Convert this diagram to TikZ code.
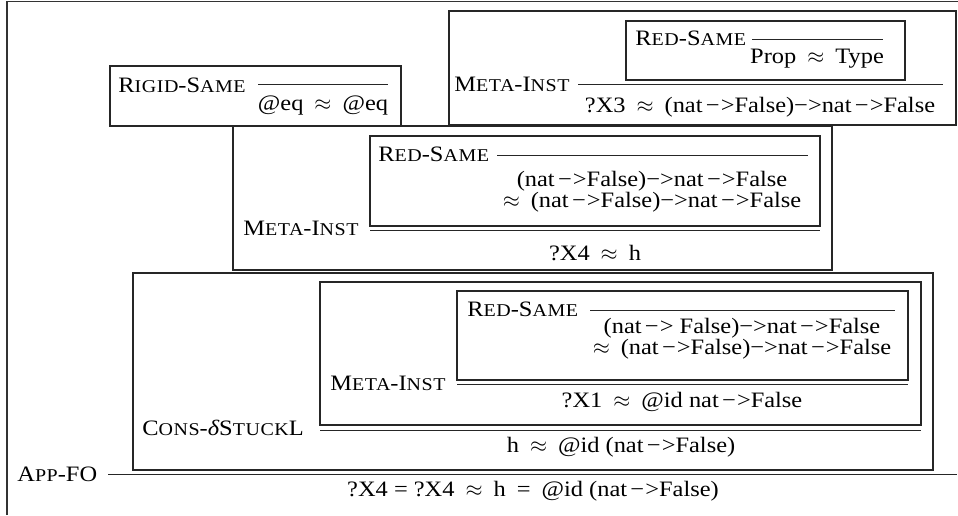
\documentclass[tikz,border=0pt]{standalone}
\usepackage{fontspec}
\setmainfont{Liberation Serif}[FakeStretch=1.11]
\usepackage{tikz}
\usetikzlibrary{positioning}

\newcommand{\scpart}[1]{{\fontsize{9pt}{11pt}\selectfont\addfontfeature{LetterSpace=3}#1}}
\newcommand{\ruleRedSame}{R\scpart{ED}-S\scpart{AME}}
\newcommand{\ruleRigidSame}{R\scpart{IGID}-S\scpart{AME}}
\newcommand{\ruleMetaInst}{M\scpart{ETA}-I\scpart{NST}}
\newcommand{\ruleConsStuck}{C\scpart{ONS}-{\itshape δ}S\scpart{TUCK}L}
\newcommand{\ruleAppFO}{A\scpart{PP}-FO}
\newcommand{\apx}{\enspace$\approx$\enspace}
\newcommand{\arw}{\kern0.15em−\kern0.05em>}
\newcommand{\twoLines}[2]{{\fontsize{11pt}{10.5pt}\selectfont\begin{tabular}[t]{@{}c@{}}#1\\#2\end{tabular}}}

\begin{document}
\begin{tikzpicture}[
    x=0.5pt, y=-0.5pt,
    every node/.style={font=\fontsize{11pt}{13pt}\selectfont, inner sep=0pt},
    proofBox/.style={draw=black!85, line width=0.65pt},
    ruleLine/.style={draw=black!85, line width=0.45pt},
    frameLine/.style={draw=black!80, line width=0.6pt},
    ruleName/.style={anchor=base west},
    judgNode/.style={anchor=base}
]
    \useasboundingbox (0,0) rectangle (958,515);
    \draw [frameLine] (7,515) -- (7,1.5) -- (958,1.5);

    % Rigid-Same
    \draw [proofBox] (110,66) rectangle (401,126);
    \node [ruleName] (rigidName) at (118,92) {\ruleRigidSame};
    \draw [ruleLine] (258,84) -- (388,84);
    \node [judgNode] (rigidConc) at (323,110) {@eq\apx @eq};

    % Meta-Inst for ?X3
    \draw [proofBox] (449,11) rectangle (956,125);
    \draw [proofBox] (626,21) rectangle (905,80);
    \node [ruleName] (redA) at (635,45) {\ruleRedSame};
    \draw [ruleLine] (752,39) -- (883,39);
    \node [judgNode] (redAConc) at (817,63) {Prop\apx Type};
    \node [ruleName] (metaA) at (454,91) {\ruleMetaInst};
    \draw [ruleLine] (578,84) -- (943,84);
    \node [judgNode] (metaAConc) at (760,112) {?X3\apx (nat\arw False)−>nat\arw False};

    % Meta-Inst for ?X4
    \draw [proofBox] (233,126) rectangle (832,270);
    \draw [proofBox] (370,136) rectangle (820,226);
    \node [ruleName] (redB) at (378,161) {\ruleRedSame};
    \draw [ruleLine] (497,155) -- (808,155);
    \node [judgNode] (redBConc) at (652,186) {\twoLines{(nat\arw False)−>nat\arw False}{$\approx$\enspace(nat\arw False)−>nat\arw False}};
    \node [ruleName] (metaB) at (243,235) {\ruleMetaInst};
    \draw [ruleLine] (370,230) -- (820,230);
    \node [judgNode] (metaBConc) at (595,260) {?X4\apx h};

    % Cons-deltaStuckL
    \draw [proofBox] (133,273) rectangle (933,470);
    \draw [proofBox] (320,282) rectangle (921,425);
    \draw [proofBox] (457,291) rectangle (908,380);
    \node [ruleName] (redC) at (467,316) {\ruleRedSame};
    \draw [ruleLine] (590,310) -- (895,310);
    \node [judgNode] (redCConc) at (742,333) {\twoLines{(nat\arw\ False)−>nat\arw False}{$\approx$\enspace(nat\arw False)−>nat\arw False}};
    \node [ruleName] (metaC) at (330,390) {\ruleMetaInst};
    \draw [ruleLine] (457,384) -- (908,384);
    \node [judgNode] (metaCConc) at (682,407) {?X1\apx @id nat\arw False};
    \node [ruleName] (consName) at (142,435) {\ruleConsStuck};
    \draw [ruleLine] (320,430) -- (921,430);
    \node [judgNode] (consConc) at (621,452) {h\apx @id (nat\arw False)};

    % App-FO
    \node [ruleName] (appName) at (17,481) {\ruleAppFO};
    \draw [ruleLine] (108,474) -- (957,474);
    \node [judgNode] (appConc) at (533,496) {?X4 = ?X4\apx h\enspace=\enspace@id (nat\arw False)};
\end{tikzpicture}
\end{document}
